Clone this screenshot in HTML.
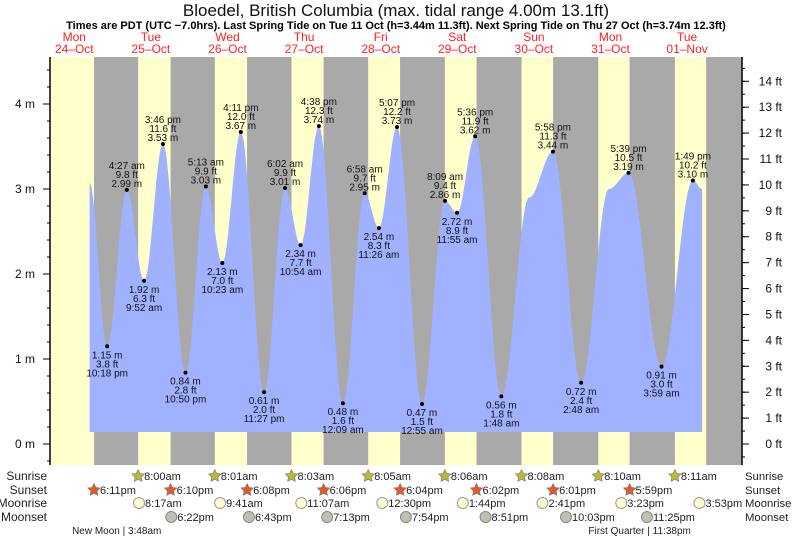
<!DOCTYPE html>
<html><head><meta charset="utf-8"><style>
html,body{margin:0;padding:0;background:#fff}
svg{display:block;font-family:"Liberation Sans",sans-serif}
</style></head><body>
<svg id="chart" width="793" height="539" xmlns="http://www.w3.org/2000/svg"></svg>
<script>
// Tide data: hours from 24-Oct 00:00, heights in metres
const tideHours = [16.8, 22.3, 28.45, 33.87, 39.77, 46.83, 53.22, 58.38, 64.18, 71.45, 78.03, 82.9, 88.63, 96.15, 102.97, 107.43, 113.12, 120.92, 128.15, 131.92, 137.6, 145.8, 154.5, 161.97, 170.8, 179.5, 185.65, 195.98, 205.82, 208.7];
const tideHeights = [3.07, 1.15, 2.99, 1.92, 3.53, 0.84, 3.03, 2.13, 3.67, 0.61, 3.01, 2.34, 3.74, 0.48, 2.95, 2.54, 3.73, 0.47, 2.86, 2.72, 3.62, 0.56, 2.9, 3.44, 0.72, 3.0, 3.19, 0.91, 3.10, 3.0];
const tideLabeled = [0,1,1,1,1,1,1,1,1,1,1,1,1,1,1,1,1,1,1,1,1,1,0,1,1,0,1,1,1,0];
const mTicks = [0,1,2,3,4];
const ftTicks = [0,1,2,3,4,5,6,7,8,9,10,11,12,13,14];
const dayNames = ["Mon","Tue","Wed","Thu","Fri","Sat","Sun","Mon","Tue"];
const dayDates = ["24\u2013Oct","25\u2013Oct","26\u2013Oct","27\u2013Oct","28\u2013Oct","29\u2013Oct","30\u2013Oct","31\u2013Oct","01\u2013Nov"];
const sunriseHours = [32.0, 56.02, 80.05, 104.08, 128.1, 152.13, 176.17, 200.18];
const sunriseText = ["8:00am","8:01am","8:03am","8:05am","8:06am","8:08am","8:10am","8:11am"];
const sunsetHours = [18.18, 42.17, 66.13, 90.1, 114.07, 138.03, 162.02, 185.98, 209.97];
const sunsetText = ["6:11pm","6:10pm","6:08pm","6:06pm","6:04pm","6:02pm","6:01pm","5:59pm",""];
const moonriseHours = [32.28, 57.68, 83.12, 108.5, 133.73, 158.68, 183.38, 207.88];
const moonriseText = ["8:17am","9:41am","11:07am","12:30pm","1:44pm","2:41pm","3:23pm","3:53pm"];
const moonsetHours = [42.37, 66.72, 91.22, 115.9, 140.85, 166.05, 191.42];
const moonsetText = ["6:22pm","6:43pm","7:13pm","7:54pm","8:51pm","10:03pm","11:25pm"];
const phaseHours = [27.8, 191.63];
const phaseText = ["New Moon | 3:48am","First Quarter | 11:38pm"];

const NS="http://www.w3.org/2000/svg";
const svg=document.getElementById('chart');
const X0=36, DW=76.6, L=50, R=742, T=57, B=465;
const xOf=h=>X0+h/24*DW;
const yOf=m=>444-m*85;
function mk(tag,attrs,parent){const e=document.createElementNS(NS,tag);for(const k in attrs)e.setAttribute(k,attrs[k]);(parent||svg).appendChild(e);return e;}
function txt(s,x,y,attrs,parent){const e=mk('text',Object.assign({x:x,y:y},attrs||{}),parent);e.textContent=s;return e;}

// title
let t=txt("Bloedel, British Columbia (max. tidal range 4.00m 13.1ft)",396,16,{'text-anchor':'middle','font-size':17,fill:'#111'});


t=txt("Times are PDT (UTC \u22127.0hrs). Last Spring Tide on Tue 11 Oct (h=3.44m 11.3ft). Next Spring Tide on Thu 27 Oct (h=3.74m 12.3ft)",396,29,{'text-anchor':'middle','font-size':11,'font-weight':'bold',fill:'#000'});



// day labels
dayNames.forEach((d,i)=>{
  const x=xOf(i*24+12);
  const g=mk('g',{});
  
  
  txt(d,x,41,{'text-anchor':'middle','font-size':12,fill:'#ff2020'},g);
  txt(dayDates[i],x,53,{'text-anchor':'middle','font-size':12,fill:'#ff2020'},g);
});

// clip
const defs=mk('defs',{});
const cp=mk('clipPath',{id:'plot'},defs);
mk('rect',{x:L,y:T,width:R-L,height:B-T},cp);
const plot=mk('g',{'clip-path':'url(#plot)'});


let bg=mk('rect',{x:L,y:T,width:R-L,height:B-T,fill:'#ffffcc'},plot);


sunsetHours.forEach((s,i)=>{
  const e=i<sunriseHours.length?sunriseHours[i]:s+40;
  const r=mk('rect',{x:xOf(s),y:T,width:xOf(e)-xOf(s),height:B-T,fill:'#a9a9a9'},plot);
  
  
});

// tide curve (cosine interpolation)
let pts=[];
for(let i=0;i<tideHours.length-1;i++){
  const h0=tideHours[i],h1=tideHours[i+1],v0=tideHeights[i],v1=tideHeights[i+1];
  const n=Math.max(4,Math.round((xOf(h1)-xOf(h0))));
  for(let k=0;k<n;k++){const f=k/n;const v=v0+(v1-v0)*(1-Math.cos(Math.PI*f))/2;pts.push([xOf(h0+(h1-h0)*f),yOf(v)]);}
}
pts.push([xOf(tideHours[tideHours.length-1]),yOf(tideHeights[tideHeights.length-1])]);
const baseY=432;
let d='M'+pts[0][0].toFixed(1)+','+baseY+' '+pts.map(p=>'L'+p[0].toFixed(1)+','+p[1].toFixed(1)).join(' ')+' L'+pts[pts.length-1][0].toFixed(1)+','+baseY+'Z';
const area=mk('path',{d:d,fill:'#a0b1ff'},plot);



function fmtTime(h){let hh=Math.floor(h%24+1e-6),mm=Math.round((h-Math.floor(h))*60);if(mm==60){mm=0;hh=(hh+1)%24;}const ap=hh>=12?'pm':'am';let h12=hh%12;if(h12==0)h12=12;return h12+':'+String(mm).padStart(2,'0')+' '+ap;}
tideHours.forEach((h,i)=>{
  if(!tideLabeled[i])return;
  const x=xOf(h),y=yOf(tideHeights[i]);
  const isHigh=(i>0&&tideHeights[i]>tideHeights[i-1]);
  const g=mk('g',{},plot);
  
  
  mk('circle',{cx:x,cy:y,r:2,fill:'#000'},g);
  const m=tideHeights[i].toFixed(2)+' m', ft=(tideHeights[i]*3.28084).toFixed(1)+' ft', tm=fmtTime(h);
  const a={'text-anchor':'middle','font-size':10,fill:'#111'};
  if(isHigh){txt(tm,x,y-21,a,g);txt(ft,x,y-12,a,g);txt(m,x,y-3,a,g);}
  else{txt(m,x,y+12,a,g);txt(ft,x,y+21,a,g);txt(tm,x,y+30,a,g);}
});

// axes
let ax=mk('line',{x1:L,y1:T,x2:L,y2:B,stroke:'#000','stroke-width':1.5});


ax=mk('line',{x1:R,y1:T,x2:R,y2:B,stroke:'#000','stroke-width':1.5});


for(let v=0;v<=4.8;v+=0.2){const y=yOf(v);if(y<T||y>B)continue;mk('line',{x1:L-3,y1:y,x2:L,y2:y,stroke:'#000'});}
for(let v=-0.2;v>-0.3;v-=0.2){mk('line',{x1:L-3,y1:yOf(v),x2:L,y2:yOf(v),stroke:'#000'});}
mTicks.forEach(m=>{const y=yOf(m);mk('line',{x1:L-7,y1:y,x2:L,y2:y,stroke:'#000'});
  const e=txt(m+' m',35,y+4,{'text-anchor':'end','font-size':12,fill:'#111'});
  
  });
for(let f=-0.5;f<=15.5;f+=0.5){const y=yOf(f*0.3048);if(y<T||y>B)continue;mk('line',{x1:R,y1:y,x2:R+3,y2:y,stroke:'#000'});}
ftTicks.forEach(f=>{const y=yOf(f*0.3048);mk('line',{x1:R,y1:y,x2:R+7,y2:y,stroke:'#000'});
  const e=txt(f+' ft',782,y+4,{'text-anchor':'end','font-size':12,fill:'#111'});
  
  });

// row labels
[["Sunrise",480],["Sunset",494],["Moonrise",507],["Moonset",521]].forEach(r=>{
  let e=txt(r[0],47,r[1],{'text-anchor':'end','font-size':12,fill:'#222'});
  
  
  e=txt(r[0],745,r[1],{'font-size':11.3,fill:'#222'});
  
  
});
function star(cx,cy,r,fill){let p=[];for(let k=0;k<10;k++){const a=-Math.PI/2+k*Math.PI/5;const rr=k%2?r*0.5:r;p.push((cx+rr*Math.cos(a)).toFixed(1)+','+(cy+rr*Math.sin(a)).toFixed(1));}return mk('polygon',{points:p.join(' '),fill:fill,stroke:'#777','stroke-width':0.6});}
sunriseHours.forEach((h,i)=>{const x=xOf(h);const s=star(x,476,6.5,'#b8b83a');
  const e=txt(sunriseText[i],x+6,480,{'font-size':11,fill:'#222'});});
sunsetHours.forEach((h,i)=>{if(!sunsetText[i])return;const x=xOf(h);const s=star(x,490,6.5,'#e05a2a');
  const e=txt(sunsetText[i],x+6,494,{'font-size':11,fill:'#222'});});
moonriseHours.forEach((h,i)=>{const x=xOf(h);const c=mk('circle',{cx:x,cy:503,r:5.5,fill:'#ffffcc',stroke:'#999'});
  const e=txt(moonriseText[i],x+6,507,{'font-size':11,fill:'#222'});});
moonsetHours.forEach((h,i)=>{const x=xOf(h);const c=mk('circle',{cx:x,cy:517,r:5.5,fill:'#c0c0b0',stroke:'#888'});
  const e=txt(moonsetText[i],x+6,521,{'font-size':11,fill:'#222'});});
phaseHours.forEach((h,i)=>{const e=txt(phaseText[i],xOf(h)-8,534,{'text-anchor':'middle','font-size':10,fill:'#222'});});
</script>
</body></html>
